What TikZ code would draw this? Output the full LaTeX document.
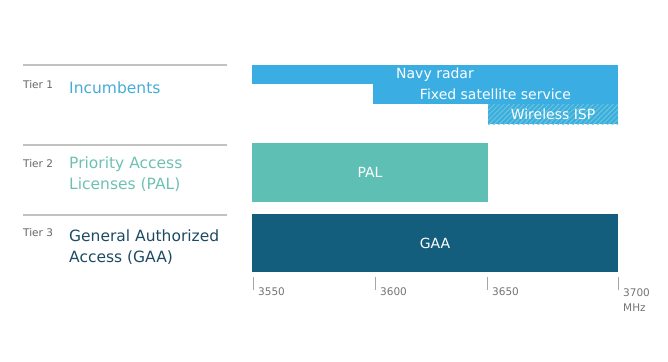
\documentclass[tikz,border=0pt]{standalone}
\usepackage{fontspec}
\setmainfont{DejaVu Sans}
\usetikzlibrary{patterns.meta}

\definecolor{incblue}{HTML}{3AAEE2}
\definecolor{palteal}{HTML}{5EC0B5}
\definecolor{gaadark}{HTML}{135E7C}
\definecolor{inctext}{HTML}{45ACD9}
\definecolor{paltext}{HTML}{6DC1B2}
\definecolor{gaatext}{HTML}{1D4A62}
\definecolor{rulegray}{HTML}{C2C2C2}
\definecolor{hatch}{HTML}{6CC6D6}

\tikzset{
  bar/.style={inner sep=0pt, text=white, font=\fontsize{14}{16}\selectfont},
  tierlabel/.style={anchor=west, inner sep=0pt, text=black!60, font=\fontsize{10.5}{12}\selectfont},
  tiername/.style={anchor=west, inner sep=0pt, align=left, font=\fontsize{15.5}{21}\selectfont},
  freq/.style={anchor=west, inner sep=0pt, text=black!55, align=left, font=\fontsize{10.5}{15}\selectfont}
}

\begin{document}
\begin{tikzpicture}[x=1pt, y=-1pt]
    \useasboundingbox (0,0) rectangle (668,361);

    % Separator rules on the left
    \foreach \y in {65,145,215} {
      \draw[rulegray, line width=1.3pt] (23,\y) -- (227,\y);
    }

    % Tier labels
    \node[tierlabel] (t1) at (23,85)  {Tier 1};
    \node[tierlabel] (t2) at (23,164) {Tier 2};
    \node[tierlabel] (t3) at (23,233) {Tier 3};

    % Tier names
    \node[tiername, text=inctext] (inc) at (69,88)  {Incumbents};
    \node[tiername, text=paltext] (pal) at (69,174) {Priority Access\\Licenses (PAL)};
    \node[tiername, text=gaatext] (gaa) at (69,247) {General Authorized\\Access (GAA)};

    % Incumbent bars (stepped)
    \node[bar, fill=incblue, minimum width=366pt, minimum height=19pt] (navy) at (435,74.5) {Navy radar};
    \node[bar, fill=incblue, minimum width=245pt, minimum height=20pt] (fss) at (495.5,94) {Fixed satellite service};
    \node[bar, fill=incblue, minimum width=130pt, minimum height=20pt,
          postaction={pattern={Lines[angle=45,distance=3.5pt,line width=1pt]}, pattern color=hatch}]
          (wisp) at (553,114) {};
    \node[bar] (wisplabel) at (wisp) {Wireless ISP};

    % PAL bar
    \node[bar, fill=palteal, minimum width=236pt, minimum height=59pt] (palbar) at (370,172.5) {PAL};
    % GAA bar
    \node[bar, fill=gaadark, minimum width=366pt, minimum height=58pt] (gaabar) at (435,243) {GAA};

    % Frequency axis ticks
    \foreach \x/\f in {253/3550, 375/3600, 487/3650} {
      \draw[black!35, line width=0.8pt] (\x,277) -- (\x,290);
      \node[freq] (f\f) at (\x+5,292) {\f};
    }
    \draw[black!35, line width=0.8pt] (618,277) -- (618,290);
    \node[freq] (f3700) at (623,300) {3700\\MHz};
\end{tikzpicture}
\end{document}
